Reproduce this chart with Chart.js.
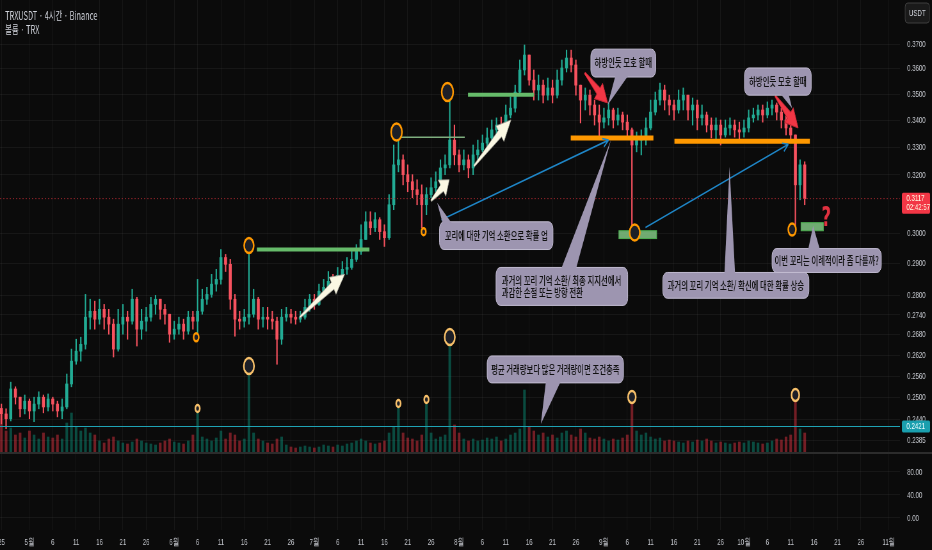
<!DOCTYPE html>
<html lang="ko">
<head>
<meta charset="utf-8">
<title>TRXUSDT 4시간</title>
<script src="https://cdn.jsdelivr.net/npm/chart.js"></script>
<style>
  html, body { margin: 0; padding: 0; background: #0b0b0b; overflow: hidden; }
  #c { display: block; }
</style>
</head>
<body>
<canvas id="c" width="1456" height="550" style="width:932px;height:550px;"></canvas>
<script>
// daily candles from 4/25 (day 0) to 10/14 (day 172)
const closes = [
  0.2455,0.2442,0.2524,0.2501,0.2469,0.2490,0.2463,0.2482,0.2501,0.2474,
  0.2496,0.2482,0.2463,0.2474,0.2538,0.2603,0.2632,0.2652,0.2733,0.2751,
  0.2727,0.2757,0.2733,0.2712,0.2638,0.2712,0.2733,0.2721,0.2788,0.2697,
  0.2721,0.2733,0.2772,0.2788,0.2757,0.2742,0.2682,0.2697,0.2712,0.2691,
  0.2733,0.2721,0.2751,0.2788,0.2803,0.2835,0.2850,0.2920,0.2898,0.2788,
  0.2727,0.2721,0.2733,0.2742,0.2788,0.2727,0.2733,0.2727,0.2721,0.2667,
  0.2733,0.2742,0.2733,0.2727,0.2733,0.2763,0.2788,0.2772,0.2813,0.2825,
  0.2844,0.2835,0.2863,0.2882,0.2888,0.2914,0.2940,0.2979,0.3038,0.3018,
  0.3045,0.3005,0.2985,0.3096,0.3236,0.3254,0.3201,0.3176,0.3148,0.3131,
  0.3096,0.3131,0.3155,0.3176,0.3225,0.3236,0.3326,0.3272,0.3236,0.3254,
  0.3225,0.3272,0.3290,0.3315,0.3334,0.3364,0.3382,0.3371,0.3420,0.3446,
  0.3508,0.3595,0.3655,0.3555,0.3516,0.3535,0.3496,0.3524,0.3496,0.3555,
  0.3603,0.3643,0.3615,0.3535,0.3477,0.3496,0.3458,0.3420,0.3393,0.3409,
  0.3439,0.3401,0.3420,0.3393,0.3364,0.3308,0.3326,0.3334,0.3371,0.3431,
  0.3477,0.3516,0.3477,0.3458,0.3439,0.3477,0.3496,0.3439,0.3458,0.3409,
  0.3420,0.3382,0.3364,0.3382,0.3345,0.3371,0.3382,0.3364,0.3356,0.3371,
  0.3409,0.3420,0.3439,0.3420,0.3446,0.3458,0.3431,0.3401,0.3371,0.3345,
  0.3165,0.3236,0.3117
];
const highs = [
  0.2482,0.2469,0.2543,0.2530,0.2501,0.2507,0.2496,0.2501,0.2516,0.2507,
  0.2510,0.2501,0.2490,0.2496,0.2566,0.2638,0.2667,0.2673,0.2803,0.2788,
  0.2782,0.2788,0.2772,0.2757,0.2727,0.2757,0.2772,0.2751,0.2819,0.2794,
  0.2757,0.2763,0.2794,0.2800,0.2788,0.2772,0.2733,0.2721,0.2733,0.2727,
  0.2751,0.2751,0.2850,0.2819,0.2825,0.2866,0.2882,0.2946,0.2930,0.2914,
  0.2803,0.2751,0.2757,0.2953,0.2819,0.2794,0.2763,0.2763,0.2751,0.2733,
  0.2757,0.2763,0.2757,0.2751,0.2751,0.2788,0.2803,0.2803,0.2835,0.2850,
  0.2875,0.2866,0.2888,0.2907,0.2920,0.2946,0.2962,0.3028,0.3072,0.3072,
  0.3069,0.3052,0.3028,0.3131,0.3308,0.3356,0.3272,0.3236,0.3201,0.3183,
  0.3165,0.3155,0.3190,0.3211,0.3254,0.3272,0.3477,0.3382,0.3290,0.3290,
  0.3272,0.3308,0.3326,0.3345,0.3371,0.3401,0.3409,0.3412,0.3458,0.3489,
  0.3535,0.3635,0.3696,0.3655,0.3595,0.3575,0.3555,0.3563,0.3555,0.3595,
  0.3635,0.3675,0.3675,0.3635,0.3535,0.3524,0.3516,0.3477,0.3458,0.3446,
  0.3466,0.3446,0.3446,0.3431,0.3420,0.3371,0.3356,0.3364,0.3409,0.3477,
  0.3508,0.3543,0.3535,0.3496,0.3477,0.3516,0.3524,0.3496,0.3485,0.3477,
  0.3458,0.3431,0.3409,0.3409,0.3401,0.3401,0.3409,0.3401,0.3393,0.3401,
  0.3439,0.3446,0.3458,0.3458,0.3470,0.3477,0.3466,0.3446,0.3420,0.3382,
  0.3334,0.3254,0.3247
];
const lows = [
  0.2428,0.2415,0.2436,0.2482,0.2447,0.2455,0.2442,0.2434,0.2469,0.2458,
  0.2463,0.2463,0.2447,0.2442,0.2469,0.2530,0.2594,0.2603,0.2638,0.2697,
  0.2697,0.2712,0.2697,0.2682,0.2615,0.2632,0.2682,0.2667,0.2712,0.2647,
  0.2667,0.2691,0.2721,0.2742,0.2727,0.2712,0.2658,0.2667,0.2682,0.2667,
  0.2682,0.2697,0.2676,0.2742,0.2772,0.2794,0.2813,0.2835,0.2875,0.2757,
  0.2676,0.2697,0.2703,0.2712,0.2733,0.2697,0.2703,0.2697,0.2697,0.2594,
  0.2652,0.2721,0.2715,0.2712,0.2718,0.2727,0.2751,0.2757,0.2769,0.2800,
  0.2813,0.2819,0.2825,0.2850,0.2866,0.2882,0.2907,0.2930,0.2979,0.2995,
  0.3005,0.2979,0.2956,0.2979,0.3079,0.3211,0.3165,0.3141,0.3120,0.3096,
  0.3018,0.3062,0.3120,0.3141,0.3165,0.3201,0.3225,0.3236,0.3211,0.3218,
  0.3190,0.3201,0.3254,0.3283,0.3297,0.3326,0.3345,0.3345,0.3382,0.3409,
  0.3431,0.3496,0.3575,0.3535,0.3477,0.3477,0.3466,0.3477,0.3466,0.3485,
  0.3535,0.3587,0.3587,0.3496,0.3390,0.3439,0.3420,0.3382,0.3337,0.3371,
  0.3382,0.3371,0.3382,0.3364,0.3337,0.2989,0.3283,0.3272,0.3308,0.3364,
  0.3420,0.3458,0.3439,0.3420,0.3401,0.3427,0.3439,0.3401,0.3382,0.3364,
  0.3382,0.3356,0.3334,0.3326,0.3308,0.3337,0.3345,0.3337,0.3326,0.3337,
  0.3356,0.3393,0.3401,0.3393,0.3409,0.3420,0.3401,0.3371,0.3345,0.3326,
  0.3005,0.3113,0.3096
];
// volume (arbitrary units, one unit = one pixel of the price pane)
const volumes = [
  38,22,25,18,20,15,22,18,14,20,16,15,18,14,
  30,40,26,22,25,20,18,
  12,10,14,16,12,10,9,11,14,12,10,9,8,10,12,14,11,10,9,12,
  18,40,16,14,12,15,22,14,20,18,12,14,
  78,
  20,14,12,10,9,14,16,8,6,5,6,7,
  6,5,6,8,7,6,8,7,9,10,12,14,12,10,9,10,12,20,
  26,45,20,15,14,12,18,49,20,14,16,18,
  107,
  28,20,14,12,14,12,13,15,14,16,12,14,18,20,24,
  63,
  26,22,18,20,16,18,15,20,22,18,16,24,20,15,14,16,14,12,14,13,15,18,
  49,
  22,18,20,16,14,15,12,13,12,11,10,12,11,13,12,14,12,10,11,10,9,10,11,10,12,11,10,9,10,12,14,13,16,18,
  51,
  24,20
];
const firstOpen = 0.2470;
const lastPrice = 0.3117;
const lastTimer = '02:42:57';
const levelPrice = 0.2421;

const xTickDays = [0,6,11,16,21,26,31,37,42,47,52,57,62,67,72,77,82,87,92,98,103,108,113,118,123,129,134,139,144,149,154,159,164,169,174,179,184,190];
const xTickLabels = ['25','5월','6','11','16','21','26','6월','6','11','16','21','26','7월','6','11','16','21','26','8월','6','11','16','21','26','9월','6','11','16','21','26','10월','6','11','16','21','26','11월'];
const priceTicks = [0.37,0.36,0.35,0.34,0.33,0.32,0.30,0.29,0.28,0.274,0.268,0.262,0.256,0.25,0.244,0.2385];
const paneTicks = [0,40,80];

// drawings on the chart (day, price)
const greenLines = [[54.7, 78.8, 0.2946], [99.9, 114.0, 0.3498]];
const greenBoxes = [[132.2, 140.3, 0.3008, 0.2982], [171.2, 176.0, 0.3035, 0.3008]];
const thinLines = [[85.0, 99.2, 0.3337]];
const orangeLines = [[121.9, 139.6, 0.3334], [144.1, 173.1, 0.3322]];
const blueLines = [[94.2, 0.3045, 130.0, 0.3326], [137.9, 0.3019, 168.5, 0.3311]];
const priceRings = [[53.0, 0.2959, 7.5], [41.7, 0.2673, 4], [84.6, 0.3356, 8.5], [90.4, 0.3005, 3.5], [95.5, 0.3508, 9], [135.6, 0.3002, 8], [169.3, 0.3012, 6]];
const volRingDays = [42, 53, 85, 91, 96, 135, 170];
const volRingSize = [3.5, 8, 3.5, 3.5, 8, 6, 6];
const whiteArrows = [[63.9, 0.2733, 73.5, 0.2866], [92.0, 0.3110, 95.9, 0.3183], [101.2, 0.3232, 109.1, 0.3401]];
const redArrows = [[124.9, 0.3583, 129.8, 0.3466], [165.7, 0.3493, 170.6, 0.3371]];
const callouts = [
  { box: [126.2, 140.1, 0.3679, 0.3567], text: ['하방인듯 모호 할때'], tail: [131.5, 134.3, 129.8, 0.3458] },
  { box: [159.1, 173.4, 0.3603, 0.3496], text: ['하방인듯 모호 할때'], tail: [166.7, 168.5, 169.3, 0.3446] },
  { box: [93.8, 118.1, 0.3038, 0.2946], text: ['꼬리에 대한 기억 소환으로 확률 업'], tail: [94.5, 96.5, 93.3, 0.3103] },
  { box: [105.9, 134.1, 0.2888, 0.2769], text: ['과거의 꼬리 기억 소환/ 최종 지지선에서', '과감한 손절 또는 방향 전환'], tail: [119.8, 123.0, 130.5, 0.3326] },
  { box: [141.6, 172.9, 0.2872, 0.2791], text: ['과거의 꼬리 기억 소환/ 확신에 대한 확률 상승'], tail: [154.8, 157.1, 155.9, 0.3229] },
  { box: [165.0, 188.4, 0.2949, 0.2872], text: ['이번 꼬리는 이례적이라 좀 다를까?'], tail: [172.7, 175.3, 173.8, 0.3025] },
  { box: [104.0, 133.2, 0.2618, 0.2541], text: ['평균 거래량보다 많은 거래량이면 조건충족'], tail: [116.6, 119.8, 115.5, 0.2428] }
];
const questionMark = [176.6, 0.3045];

const KR = '"Noto Sans CJK KR", "Noto Sans", sans-serif';
const NUM = '"Liberation Sans", Arial, sans-serif';
const UP = '#22ab94', DOWN = '#f7525f';
const gridColor = 'rgba(255,255,255,0.05)';

const opens = closes.map((c, i) => i === 0 ? firstOpen : closes[i - 1]);
const isUp = closes.map((c, i) => c >= opens[i]);

function roundBox(ctx, x, y, w, h, r) {
  ctx.beginPath();
  ctx.moveTo(x + r, y);
  ctx.arcTo(x + w, y, x + w, y + h, r);
  ctx.arcTo(x + w, y + h, x, y + h, r);
  ctx.arcTo(x, y + h, x, y, r);
  ctx.arcTo(x, y, x + w, y, r);
  ctx.closePath();
}

function fatArrow(ctx, x1, y1, x2, y2, fill, edge) {
  const dx = x2 - x1, dy = y2 - y1, L = Math.hypot(dx, dy);
  const ux = dx / L, uy = dy / L, nx = -uy, ny = ux;
  const h = Math.min(L * 0.4, 22), w = 4, W = 10;
  const bx = x2 - ux * h, by = y2 - uy * h;
  ctx.beginPath();
  ctx.moveTo(x1 + nx, y1 + ny);
  ctx.lineTo(bx + nx * w, by + ny * w);
  ctx.lineTo(bx + nx * W, by + ny * W);
  ctx.lineTo(x2, y2);
  ctx.lineTo(bx - nx * W, by - ny * W);
  ctx.lineTo(bx - nx * w, by - ny * w);
  ctx.lineTo(x1 - nx, y1 - ny);
  ctx.closePath();
  ctx.fillStyle = fill;
  ctx.fill();
  ctx.strokeStyle = edge;
  ctx.lineWidth = 1;
  ctx.stroke();
}

const overlay = {
  id: 'overlay',
  beforeDraw(chart) {
    const ctx = chart.ctx;
    ctx.save();
    ctx.fillStyle = '#0b0b0b';
    ctx.fillRect(0, 0, chart.width, chart.height);
    ctx.restore();
  },
  afterDatasetsDraw(chart) {
    const { ctx, chartArea: a } = chart;
    const sx = chart.scales.x, sy = chart.scales.y, sv = chart.scales.yv;
    const X = d => sx.getPixelForValue(d);
    const Y = p => sy.getPixelForValue(p);
    const V = v => sv.getPixelForValue(v);
    ctx.save();

    // level line and last price line
    ctx.lineWidth = 1.2;
    ctx.strokeStyle = '#1fa3b4';
    ctx.beginPath(); ctx.moveTo(a.left, Y(levelPrice)); ctx.lineTo(a.right, Y(levelPrice)); ctx.stroke();
    ctx.setLineDash([2, 3]);
    ctx.strokeStyle = 'rgba(190,45,55,0.75)';
    ctx.lineWidth = 1;
    ctx.beginPath(); ctx.moveTo(a.left, Y(lastPrice)); ctx.lineTo(a.right, Y(lastPrice)); ctx.stroke();
    ctx.setLineDash([]);

    // horizontal segments
    ctx.lineCap = 'butt';
    ctx.strokeStyle = '#66bb6a'; ctx.lineWidth = 4;
    greenLines.forEach(([d1, d2, p]) => { ctx.beginPath(); ctx.moveTo(X(d1), Y(p)); ctx.lineTo(X(d2), Y(p)); ctx.stroke(); });
    ctx.strokeStyle = '#7fae7f'; ctx.lineWidth = 1.5;
    thinLines.forEach(([d1, d2, p]) => { ctx.beginPath(); ctx.moveTo(X(d1), Y(p)); ctx.lineTo(X(d2), Y(p)); ctx.stroke(); });
    ctx.strokeStyle = '#ff9800'; ctx.lineWidth = 5;
    orangeLines.forEach(([d1, d2, p]) => { ctx.beginPath(); ctx.moveTo(X(d1), Y(p)); ctx.lineTo(X(d2), Y(p)); ctx.stroke(); });
    greenBoxes.forEach(([d1, d2, p1, p2]) => {
      ctx.fillStyle = 'rgba(129,199,132,0.85)';
      ctx.fillRect(X(d1), Y(p1), X(d2) - X(d1), Y(p2) - Y(p1));
      ctx.strokeStyle = '#4caf50'; ctx.lineWidth = 1;
      ctx.strokeRect(X(d1), Y(p1), X(d2) - X(d1), Y(p2) - Y(p1));
    });

    // trend lines with small heads
    ctx.strokeStyle = '#1f86c7'; ctx.lineWidth = 1.6;
    blueLines.forEach(([d1, p1, d2, p2]) => {
      const x1 = X(d1), y1 = Y(p1), x2 = X(d2), y2 = Y(p2);
      const ang = Math.atan2(y2 - y1, x2 - x1);
      ctx.beginPath();
      ctx.moveTo(x1, y1); ctx.lineTo(x2, y2);
      ctx.moveTo(x2, y2); ctx.lineTo(x2 - 10 * Math.cos(ang - 0.45), y2 - 10 * Math.sin(ang - 0.45));
      ctx.moveTo(x2, y2); ctx.lineTo(x2 - 10 * Math.cos(ang + 0.45), y2 - 10 * Math.sin(ang + 0.45));
      ctx.stroke();
    });

    // rings
    ctx.lineWidth = 2.5;
    priceRings.forEach(([d, p, r]) => {
      ctx.beginPath(); ctx.arc(X(d), Y(p), r, 0, Math.PI * 2);
      ctx.fillStyle = '#1d1f27'; ctx.fill();
      ctx.strokeStyle = '#ff9800'; ctx.stroke();
    });
    volRingDays.forEach((d, i) => {
      const r = volRingSize[i];
      ctx.beginPath(); ctx.arc(X(d), V(volumes[d] + r + 1), r, 0, Math.PI * 2);
      ctx.fillStyle = '#1d1f27'; ctx.fill();
      ctx.strokeStyle = '#f7c06a'; ctx.stroke();
    });

    // arrows
    whiteArrows.forEach(([d1, p1, d2, p2]) => fatArrow(ctx, X(d1), Y(p1), X(d2), Y(p2), '#fbf8e3', 'rgba(160,160,150,0.8)'));
    redArrows.forEach(([d1, p1, d2, p2]) => fatArrow(ctx, X(d1), Y(p1), X(d2), Y(p2), '#f23645', '#c62835'));

    // callouts
    callouts.forEach(cb => {
      const [d1, d2, pTop, pBot] = cb.box;
      const x1 = X(d1), x2 = X(d2), y1 = Y(pTop), y2 = Y(pBot);
      const [t1, t2, td, tp] = cb.tail;
      const tx = X(td), ty = Y(tp);
      const by = ty < y1 ? y1 + 2 : y2 - 2;
      roundBox(ctx, x1, y1, x2 - x1, y2 - y1, 7);
      ctx.fillStyle = '#9d95b0'; ctx.fill();
      ctx.strokeStyle = '#c2bcd2'; ctx.lineWidth = 1; ctx.stroke();
      ctx.beginPath(); ctx.moveTo(X(t1), by); ctx.lineTo(tx, ty); ctx.lineTo(X(t2), by); ctx.closePath();
      ctx.fill();
      ctx.fillStyle = '#111111';
      ctx.font = `500 11.5px ${KR}`;
      ctx.textBaseline = 'middle';
      const n = cb.text.length, cy = (y1 + y2) / 2;
      cb.text.forEach((t, i) => {
        const yy = cy + (i - (n - 1) / 2) * 12;
        if (n === 1) { ctx.textAlign = 'center'; ctx.fillText(t, (x1 + x2) / 2, yy, x2 - x1 - 8); }
        else { ctx.textAlign = 'left'; ctx.fillText(t, x1 + 9, yy, x2 - x1 - 14); }
      });
    });

    ctx.fillStyle = '#e03140';
    ctx.font = `bold 26px "DejaVu Sans", sans-serif`;
    ctx.textAlign = 'center'; ctx.textBaseline = 'middle';
    ctx.fillText('?', X(questionMark[0]), Y(questionMark[1]));
    ctx.restore();
  },
  afterDraw(chart) {
    const { ctx } = chart;
    const sy = chart.scales.y, si = chart.scales.yInd;
    ctx.save();
    ctx.fillStyle = '#2c2c2c';
    ctx.fillRect(0, si.top - 1, chart.width, 2);

    const ax = sy.left;
    const py = sy.getPixelForValue(lastPrice);
    ctx.fillStyle = '#f23645';
    roundBox(ctx, ax + 3, py - 6, chart.width - ax - 6, 21, 2); ctx.fill();
    ctx.fillStyle = '#fff6e0';
    ctx.font = `9.5px ${NUM}`; ctx.textAlign = 'left'; ctx.textBaseline = 'middle';
    ctx.fillText(lastPrice.toFixed(4), ax + 10, py);
    ctx.fillText(lastTimer, ax + 10, py + 9);

    const ly = sy.getPixelForValue(levelPrice);
    ctx.fillStyle = '#1a9fae';
    roundBox(ctx, ax + 3, ly - 6, chart.width - ax - 6, 12, 2); ctx.fill();
    ctx.fillStyle = '#e8fbff';
    ctx.fillText(levelPrice.toFixed(4), ax + 10, ly);

    roundBox(ctx, ax + 8, 3, chart.width - ax - 12, 20, 4);
    ctx.fillStyle = '#1a1a1a'; ctx.fill();
    ctx.strokeStyle = '#3e3e3e'; ctx.lineWidth = 1; ctx.stroke();
    ctx.fillStyle = '#d1d4dc'; ctx.textAlign = 'center';
    ctx.fillText('USDT', ax + 8 + (chart.width - ax - 12) / 2, 13);

    ctx.fillStyle = '#d1d4dc';
    ctx.font = `11.5px ${KR}`; ctx.textAlign = 'left';
    ctx.fillText('TRXUSDT · 4시간 · Binance', 8, 16);
    ctx.fillText('볼륨 · TRX', 8, 30);
    ctx.restore();
  }
};

const noPad = s => { s.paddingTop = 0; s.paddingBottom = 0; s.paddingLeft = 0; s.paddingRight = 0; };

const canvas = document.getElementById('c');
new Chart(canvas, {
  type: 'bar',
  data: {
    datasets: [
      {
        label: 'volume', yAxisID: 'yv', order: 3, grouped: false, barThickness: 3.5,
        data: volumes.map((v, i) => ({ x: i, y: v })),
        backgroundColor: isUp.map(u => u ? 'rgba(8,153,129,0.45)' : 'rgba(242,54,69,0.45)')
      },
      {
        label: 'wick', yAxisID: 'y', order: 2, grouped: false, barThickness: 1.5,
        data: closes.map((c, i) => ({ x: i, y: [Math.min(lows[i], opens[i], c), Math.max(highs[i], opens[i], c)] })),
        backgroundColor: isUp.map(u => u ? UP : DOWN)
      },
      {
        label: 'body', yAxisID: 'y', order: 1, grouped: false, barThickness: 4, minBarLength: 1,
        data: closes.map((c, i) => ({ x: i, y: [opens[i], c] })),
        backgroundColor: isUp.map(u => u ? UP : DOWN)
      }
    ]
  },
  options: {
    responsive: false,
    animation: false,
    devicePixelRatio: 1,
    events: [],
    layout: { padding: 0 },
    plugins: { legend: { display: false }, tooltip: { enabled: false } },
    scales: {
      x: {
        type: 'linear', min: -0.3, max: 192.4, offset: false, bounds: 'data',
        grid: { color: gridColor, drawTicks: false, offset: false },
        border: { display: false },
        afterBuildTicks: s => { s.ticks = xTickDays.map(v => ({ value: v })); },
        afterFit: s => { s.height = 20; noPad(s); },
        ticks: {
          autoSkip: false, maxRotation: 0, minRotation: 0, padding: 7,
          color: '#c0c3c9', font: { size: 9.5, family: NUM },
          callback: (v, i) => xTickLabels[i]
        }
      },
      y: {
        type: 'logarithmic', position: 'right', stack: 'pane', stackWeight: 453,
        min: 0.23509, max: 0.38851, bounds: 'data',
        grid: { color: gridColor, drawTicks: false },
        border: { display: false },
        afterBuildTicks: s => { s.ticks = priceTicks.map(v => ({ value: v })); },
        afterFit: s => { s.width = 50; noPad(s); },
        ticks: {
          autoSkip: false, padding: 11, color: '#c0c3c9', font: { size: 9.5, family: NUM },
          callback: v => Number(v).toFixed(4)
        }
      },
      yInd: {
        type: 'linear', position: 'right', stack: 'pane', stackWeight: 77,
        min: -20.9, max: 113, bounds: 'data',
        grid: { color: gridColor, drawTicks: false },
        border: { display: false },
        afterBuildTicks: s => { s.ticks = paneTicks.map(v => ({ value: v })); },
        afterFit: s => { s.width = 50; noPad(s); },
        ticks: {
          autoSkip: false, padding: 11, color: '#c0c3c9', font: { size: 9.5, family: NUM },
          callback: v => Number(v).toFixed(2)
        }
      },
      yv: {
        type: 'linear', position: 'right', display: false, min: -77, max: 453, bounds: 'data'
      }
    }
  },
  plugins: [overlay]
});
canvas.style.width = '932px';
canvas.style.height = '550px';
</script>
</body>
</html>
